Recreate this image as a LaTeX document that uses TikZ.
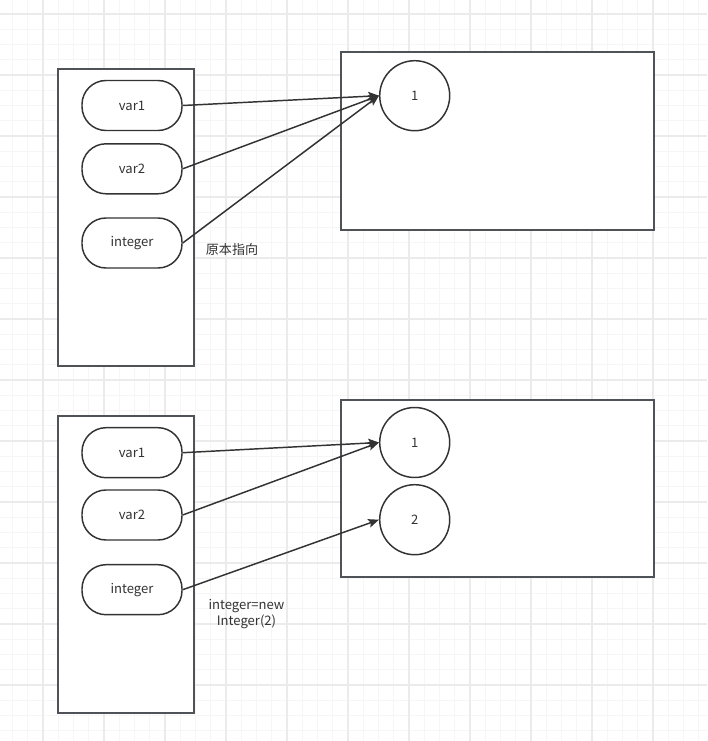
\documentclass[tikz,border=0pt]{standalone}
\usepackage{fontspec}
\setmainfont{Noto Sans CJK SC}
\usetikzlibrary{arrows.meta}
\definecolor{ln}{HTML}{333333}
\definecolor{bx}{HTML}{4F5257}
\definecolor{gminor}{HTML}{F6F6F6}
\definecolor{gmajor}{HTML}{EBEBEB}
\begin{document}
\begin{tikzpicture}[x=0.75pt,y=-0.75pt,
  every node/.style={font=\fontsize{9.8pt}{12pt}\selectfont, text=ln},
  gminorline/.style={gminor, line width=0.75pt},
  gmajorline/.style={gmajor, line width=0.9pt},
  frame/.style={draw=bx, line width=1.5pt, fill=white, minimum width=102pt, inner sep=0pt},
  heapbox/.style={draw=bx, line width=1.5pt, fill=white, minimum width=234.75pt, inner sep=0pt},
  varbox/.style={draw=ln, line width=1.1pt, fill=white, minimum width=75pt, minimum height=37.5pt, rounded corners=18pt, inner sep=0pt},
  valcirc/.style={circle, draw=ln, line width=1.1pt, fill=white, minimum size=52.5pt, inner sep=0pt},
  arr/.style={draw=ln, line width=1.1pt, -{Stealth[length=8pt, width=6.5pt, inset=1.5pt]}},
  lbl/.style={align=center, inner sep=0pt}
]
\useasboundingbox (0,0) rectangle (707,741);
\fill[white] (0,0) rectangle (707,741);
% grid
\foreach \i in {0,...,46} \draw[gminorline] ({12.5+15.25*\i},0) -- ({12.5+15.25*\i},741);
\foreach \i in {0,...,49} \draw[gminorline] (0,{-1.25+15.25*\i}) -- (707,{-1.25+15.25*\i});
\foreach \i in {0,...,11} \draw[gmajorline] ({43+61*\i},0) -- ({43+61*\i},741);
\foreach \i in {0,...,12} \draw[gmajorline] (0,{14+61*\i}) -- (707,{14+61*\i});

% top scene
\node[frame, minimum height=222.75pt] (stackA) at (126,217.5) {};
\node[heapbox, minimum height=133pt] (heapA) at (497.5,141) {};
\node[varbox] (aVar1) at (132,105.5) {var1};
\node[varbox] (aVar2) at (132,168.8) {var2};
\node[varbox] (aInt) at (132,243) {integer};
\node[valcirc] (aOne) at (414.7,95.7) {1};
\draw[arr] (aVar1.east) -- (aOne.west);
\draw[arr] (aVar2.east) -- (aOne.west);
\draw[arr] (aInt.east) -- (aOne.west);
\node[lbl] (aLbl) at (232,250) {原本指向};

% bottom scene
\node[frame, minimum height=223pt] (stackB) at (126,564.75) {};
\node[heapbox, minimum height=132.4pt] (heapB) at (497.5,488.25) {};
\node[varbox] (bVar1) at (132,452.7) {var1};
\node[varbox] (bVar2) at (132,515) {var2};
\node[varbox] (bInt) at (132,589.7) {integer};
\node[valcirc] (bOne) at (414.7,442.5) {1};
\node[valcirc] (bTwo) at (414.7,519.7) {2};
\draw[arr] (bVar1.east) -- (bOne.west);
\draw[arr] (bVar2.east) -- (bOne.west);
\draw[arr] (bInt.east) -- (bTwo.west);
\node[lbl] (bLbl) at (246.5,614) {integer=new\\Integer(2)};
\end{tikzpicture}
\end{document}
